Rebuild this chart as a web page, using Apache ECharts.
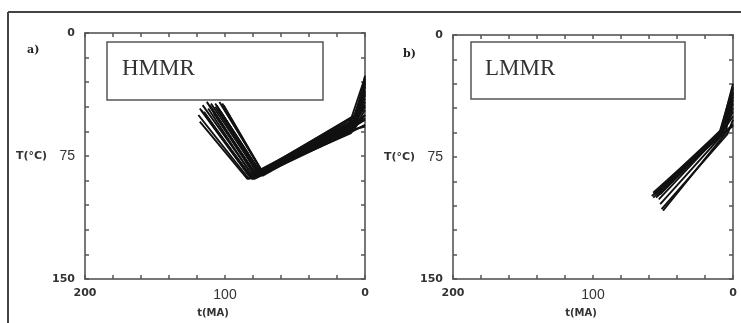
<!DOCTYPE html>
<html>
<head>
<meta charset="utf-8">
<script src="https://cdn.jsdelivr.net/npm/echarts@6.0.0/dist/echarts.min.js"></script>
<style>
  html, body { margin: 0; padding: 0; background: #fff; }
  #chart { width: 741px; height: 323px; }
</style>
</head>
<body>
<div id="chart"></div>
<script>
  // labelled ticks
  const timeLabels = [200, 100, 0];
  const tempLabels = [0, 75, 150];
  const panelNames = ['HMMR', 'LMMR'];
  const panelTags = ['a)', 'b)'];

  // thermal histories, points are [t (MA), T (°C)]
  const hmmrPaths = [
    [[118, 54], [84, 89], [10, 61], [0, 50]],
    [[116, 44], [80, 87], [8, 55], [0, 30]],
    [[113, 42], [78, 88], [7, 54], [0, 26]],
    [[110, 43], [76, 86], [9, 56], [0, 40]],
    [[107, 45], [74, 87], [6, 52], [0, 35]],
    [[104, 42], [73, 85], [5, 50], [0, 28]],
    [[119, 50], [83, 89], [11, 60], [0, 45]],
    [[115, 48], [82, 88], [9, 58], [0, 52]],
    [[112, 46], [79, 89], [8, 57], [0, 38]],
    [[109, 47], [77, 87], [7, 55], [0, 33]],
    [[106, 44], [75, 86], [6, 54], [0, 42]],
    [[102, 43], [74, 84], [5, 49], [0, 30]],
    [[117, 47], [81, 88], [10, 56], [0, 36]],
    [[114, 50], [80, 89], [9, 60], [0, 56]],
    [[111, 44], [78, 87], [8, 53], [0, 29]],
    [[108, 49], [77, 88], [7, 57], [0, 47]],
    [[105, 46], [76, 87], [6, 55], [0, 32]],
    [[103, 48], [73, 87], [5, 54], [0, 50]],
    [[118, 46], [83, 87], [11, 55], [0, 27]],
    [[113, 51], [81, 89], [9, 59], [0, 57]],
    [[110, 45], [79, 86], [8, 51], [0, 31]],
    [[107, 43], [75, 85], [7, 53], [0, 44]],
    [[104, 47], [74, 86], [6, 56], [0, 53]],
    [[101, 44], [73, 85], [5, 52], [0, 37]]
  ];
  const lmmrPaths = [
    [[57, 97], [9, 60], [0, 30]],
    [[55, 96], [8, 58], [0, 35]],
    [[53, 97], [7, 57], [0, 40]],
    [[58, 99], [10, 63], [0, 45]],
    [[56, 98], [8, 60], [0, 50]],
    [[54, 99], [6, 57], [0, 33]],
    [[52, 98], [5, 56], [0, 38]],
    [[57, 100], [9, 62], [0, 55]],
    [[55, 100], [7, 59], [0, 42]],
    [[53, 101], [6, 58], [0, 47]],
    [[51, 107], [4, 61], [0, 52]],
    [[50, 108], [3, 58], [0, 56]],
    [[52, 104], [5, 59], [0, 36]],
    [[56, 97], [10, 61], [0, 32]]
  ];

  const axisColor = '#777';
  const smallFont = { fontFamily: 'DejaVu Sans', fontWeight: 'bold', fontSize: 11, color: '#333' };
  const bigFont = { fontFamily: 'Liberation Sans', fontSize: 14, color: '#333' };

  function timeFormatter (v) {
    if (timeLabels.indexOf(v) < 0) return '';
    return v === 100 ? '{big|' + v + '}' : '{small|' + v + '}';
  }
  function tempFormatter (v) {
    if (tempLabels.indexOf(v) < 0) return '';
    return v === 75 ? '{big|' + v + '}' : '{small|' + v + '}';
  }

  function xAxes (gridIndex) {
    let base = {
      gridIndex: gridIndex,
      type: 'value',
      min: 0,
      max: 200,
      interval: 20,
      inverse: true,
      splitLine: { show: false },
      axisLine: { show: true, onZero: false, lineStyle: { color: axisColor, width: 2 } },
      axisTick: { show: true, inside: true, length: 4, lineStyle: { color: '#555', width: 1.5 } }
    };
    return [
      Object.assign({}, base, {
        position: 'bottom',
        name: 't(MA)',
        nameLocation: 'middle',
        nameGap: 29,
        nameTextStyle: { fontFamily: 'DejaVu Sans', fontWeight: 'bold', fontSize: 10, color: '#333', padding: [0, 24, 0, 0] },
        axisLabel: { show: true, margin: 9, formatter: timeFormatter, rich: { small: smallFont, big: bigFont } }
      }),
      Object.assign({}, base, { position: 'top', axisLabel: { show: false } })
    ];
  }

  function yAxes (gridIndex, nameGap) {
    let base = {
      gridIndex: gridIndex,
      type: 'value',
      min: 0,
      max: 150,
      interval: 15,
      inverse: true,
      splitLine: { show: false },
      axisLine: { show: true, onZero: false, lineStyle: { color: axisColor, width: 2 } },
      axisTick: { show: true, inside: true, length: 4, lineStyle: { color: '#555', width: 1.5 } }
    };
    return [
      Object.assign({}, base, {
        position: 'left',
        name: 'T(°C)',
        nameLocation: 'middle',
        nameRotate: 0,
        nameGap: nameGap,
        nameTextStyle: { fontFamily: 'DejaVu Sans', fontWeight: 'bold', fontSize: 11, color: '#333', align: 'right', verticalAlign: 'middle' },
        axisLabel: { show: true, margin: 10, formatter: tempFormatter, rich: { small: smallFont, big: bigFont } }
      }),
      Object.assign({}, base, { position: 'right', axisLabel: { show: false } })
    ];
  }

  let series = [];
  hmmrPaths.forEach(function (path) {
    series.push({
      type: 'line', xAxisIndex: 0, yAxisIndex: 0, data: path,
      showSymbol: false, silent: true,
      lineStyle: { color: '#111', width: 1.9 }
    });
  });
  lmmrPaths.forEach(function (path) {
    series.push({
      type: 'line', xAxisIndex: 2, yAxisIndex: 2, data: path,
      showSymbol: false, silent: true,
      lineStyle: { color: '#111', width: 1.9 }
    });
  });

  let myChart = echarts.init(document.getElementById('chart'), null, { renderer: 'canvas' });
  myChart.setOption({
    animation: false,
    backgroundColor: '#fff',
    grid: [
      { left: 85, top: 33, width: 280, height: 250 },
      { left: 453, top: 35, width: 280, height: 252 }
    ],
    xAxis: xAxes(0).concat(xAxes(1)),
    yAxis: yAxes(0, 35).concat(yAxes(1, 28)),
    series: series,
    graphic: [
      { type: 'line', shape: { x1: 8, y1: 12, x2: 741, y2: 12 }, style: { stroke: '#444', lineWidth: 2 } },
      { type: 'line', shape: { x1: 8, y1: 12, x2: 8, y2: 323 }, style: { stroke: '#444', lineWidth: 2 } },
      { type: 'rect', shape: { x: 107, y: 42, width: 216, height: 58 }, style: { fill: '#fff', stroke: '#555', lineWidth: 1.5 }, z: 100 },
      { type: 'rect', shape: { x: 471, y: 42, width: 214, height: 57 }, style: { fill: '#fff', stroke: '#555', lineWidth: 1.5 }, z: 100 },
      { type: 'text', x: 122, y: 69, z: 101, style: { text: panelNames[0], font: '23px "Liberation Serif"', fill: '#333', verticalAlign: 'middle' } },
      { type: 'text', x: 485, y: 69, z: 101, style: { text: panelNames[1], font: '23px "Liberation Serif"', fill: '#333', verticalAlign: 'middle' } },
      { type: 'text', x: 27, y: 50, z: 101, style: { text: panelTags[0], font: 'bold 11px "DejaVu Serif"', fill: '#222', verticalAlign: 'middle' } },
      { type: 'text', x: 403, y: 54, z: 101, style: { text: panelTags[1], font: 'bold 11px "DejaVu Serif"', fill: '#222', verticalAlign: 'middle' } }
    ]
  });
</script>
</body>
</html>
